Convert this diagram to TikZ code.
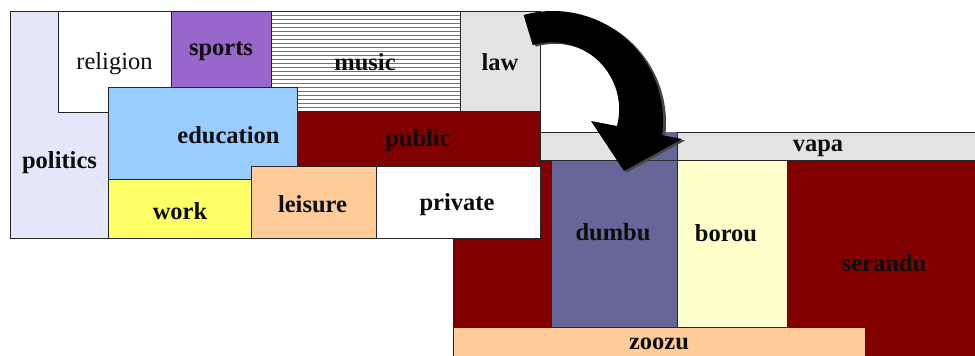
\documentclass[tikz,border=0pt]{standalone}
\usepackage{fontspec}
\setmainfont{Liberation Serif}
\definecolor{lav}{HTML}{E6E6FA}
\definecolor{purp}{HTML}{9966CC}
\definecolor{lgray}{HTML}{E3E3E3}
\definecolor{sky}{HTML}{99CCFF}
\definecolor{maroon}{HTML}{800000}
\definecolor{yel}{HTML}{FFFF66}
\definecolor{peach}{HTML}{FFCC99}
\definecolor{slate}{HTML}{666699}
\definecolor{cream}{HTML}{FFFFCC}
\begin{document}
\begin{tikzpicture}[x=1pt,y=-1pt,
  box/.style={draw=black!85, line width=0.7pt, anchor=north west, inner sep=0pt, outer sep=0pt},
  lbl/.style={font=\fontsize{24.5}{27}\selectfont\bfseries, inner sep=0pt, text=black!95},
  lblr/.style={font=\fontsize{24.5}{27}\selectfont, inner sep=0pt, text=black!95},
  hatch/.style={path picture={\foreach \k in {1,...,25}
      \draw[black!55, line width=0.6pt] ([yshift=-\k*4pt]path picture bounding box.north west) -- ([yshift=-\k*4pt]path picture bounding box.north east);}}]
\useasboundingbox (0,0) rectangle (975,356);
\clip (0,0) rectangle (975,356);
% right group
\node[box, fill=maroon, minimum width=530pt, minimum height=210pt] (serandu) at (453,160) {};
\node[box, fill=lgray, minimum width=445pt, minimum height=28pt] (vapa) at (540,132) {};
\node[box, fill=slate, minimum width=126pt, minimum height=167pt] (dumbu) at (551,160) {};
\node[box, fill=cream, minimum width=110pt, minimum height=167pt] (borou) at (677,160) {};
\node[box, fill=peach, minimum width=412pt, minimum height=40pt] (zoozu) at (453,327) {};
\fill[slate] (dumbu.north east) -- ++(0,-28) -- ++(-20,0) -- (630,160) -- cycle;
\draw[black!85, line width=0.7pt] (dumbu.north east) -- ++(0,-28);
% left group
\node[box, fill=lav, minimum width=98pt, minimum height=227pt] (politics) at (10,11) {};
\node[box, fill=white, minimum width=113pt, minimum height=101pt] (religion) at (58,11) {};
\node[box, fill=purp, minimum width=100pt, minimum height=76pt] (sports) at (171,11) {};
\node[box, fill=white, hatch, minimum width=189pt, minimum height=100pt] (music) at (271,11) {};
\node[box, fill=lgray, minimum width=80pt, minimum height=100pt] (law) at (460,11) {};
\node[box, fill=maroon, minimum width=243pt, minimum height=55pt] (public) at (297,111) {};
\node[box, fill=sky, minimum width=189pt, minimum height=92pt] (education) at (108,87) {};
\node[box, fill=yel, minimum width=143pt, minimum height=59pt] (work) at (108,179) {};
\node[box, fill=peach, minimum width=125pt, minimum height=72pt] (leisure) at (251,166) {};
\node[box, fill=white, minimum width=164pt, minimum height=72pt] (private) at (376,166) {};
% labels
\node[lbl] (tpolitics) at (59.5,163) {politics};
\node[lblr] (treligion) at (114.5,64) {religion};
\node[lbl] (tsports) at (221,51) {sports};
\node[lbl] (tmusic) at (365,62) {music};
\node[lbl] (tlaw) at (500,62) {law};
\node[lbl] (tpublic) at (418,141) {public};
\node[lbl] (teducation) at (228.5,135) {education};
\node[lbl] (twork) at (180,211) {work};
\node[lbl] (tleisure) at (312.5,204) {leisure};
\node[lbl] (tprivate) at (457,205) {private};
\node[lbl] (tvapa) at (818,148) {vapa};
\node[lbl] (tdumbu) at (613,232) {dumbu};
\node[lbl] (tborou) at (726,233) {borou};
\node[lbl] (tserandu) at (884,263) {serandu};
\node[lbl] (tzoozu) at (659,344) {zoozu};
% curved arrow
\fill[black!72, shift={(3,1.5)}] (523.6,15) arc[start angle=-105.5, end angle=7.4, radius=110]
  -- (682,139) -- (624,171) -- (591,121) -- (617,126)
  arc[start angle=14.4, end angle=-106.8, radius=67] -- cycle;
\fill[black] (523.6,15) arc[start angle=-105.5, end angle=7.4, radius=110]
  -- (682,139) -- (624,171) -- (591,121) -- (617,126)
  arc[start angle=14.4, end angle=-106.8, radius=67] -- cycle;
\end{tikzpicture}
\end{document}
